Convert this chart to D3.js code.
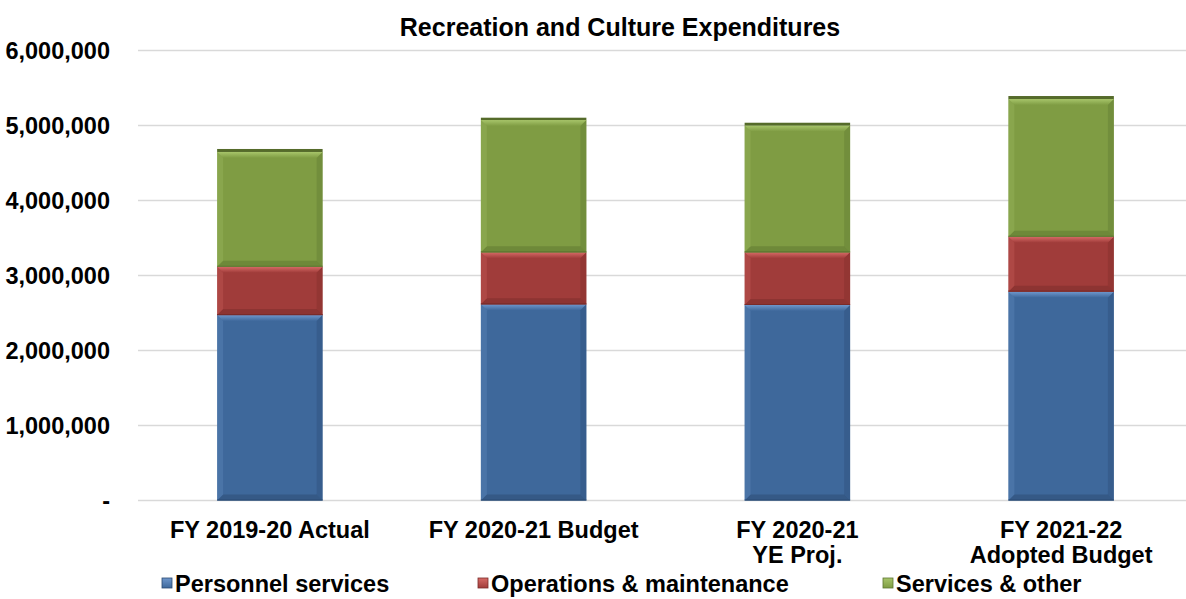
<!DOCTYPE html>
<html><head><meta charset="utf-8">
<script src="https://cdn.jsdelivr.net/npm/d3@7"></script>
<style>
body{margin:0;background:#fff;}
text{font-family:"Liberation Sans",Arial,sans-serif;font-weight:bold;fill:#000;}
</style></head>
<body>
<svg id="chart" width="1186" height="599"></svg>
<script>
const categories = ["FY 2019-20 Actual", "FY 2020-21 Budget", "FY 2020-21\nYE Proj.", "FY 2021-22\nAdopted Budget"];
const personnel = [2473000, 2616000, 2607000, 2784000];
const operations = [644000, 693000, 702000, 733000];
const services = [1530000, 1764000, 1691000, 1836000];
const capital = [40000, 31000, 37000, 40000];
const seriesNames = ["Personnel services", "Operations & maintenance", "Services & other", "Capital outlay"];
const yTicks = [0, 1000000, 2000000, 3000000, 4000000, 5000000, 6000000];

const colors = ["#3e689b", "#a03c3a", "#7f9c43", "#556b2a"];
const lights = ["#6f97cc", "#d66a66", "#a7c56a", "#7f9c43"];
const darks = ["#2b4a72", "#7a2b29", "#5d7630", "#3e4f1d"];

const svg = d3.select("#chart");
const W = 1186, H = 599;
const x = d3.scaleBand().domain(categories).range([138, 1193]).paddingInner(0.6).paddingOuter(0.3);
const y = d3.scaleLinear().domain([0, 6000000]).range([500.5, 50.5]);

// gridlines
svg.append("g").selectAll("line").data(yTicks).join("line")
  .attr("x1", 138).attr("x2", W).attr("y1", d => y(d)).attr("y2", d => y(d))
  .attr("stroke", "#d9d9d9").attr("stroke-width", 1.5);

// y labels
const fmt = d => d === 0 ? "-" : d3.format(",")(d);
svg.append("g").selectAll("text").data(yTicks).join("text")
  .attr("x", 110).attr("y", d => y(d) + 8.5).attr("text-anchor", "end")
  .style("font-size", "23.5px").text(fmt);

// gradients
const defs = svg.append("defs");
colors.forEach((c, i) => {
  const g = defs.append("linearGradient").attr("id", "g" + i).attr("x1", 0).attr("x2", 0).attr("y1", 0).attr("y2", 1);
  g.append("stop").attr("offset", "0").attr("stop-color", lights[i]);
  g.append("stop").attr("offset", "1").attr("stop-color", c);
});

const data = categories.map((c, i) => ({cat: c, v: [personnel[i], operations[i], services[i], capital[i]]}));
const stack = d3.stack().keys([0, 1, 2, 3]).value((d, k) => d.v[k]);
const stacked = stack(data);

const bw = x.bandwidth();
stacked.forEach((layer, si) => {
  const g = svg.append("g");
  layer.forEach(seg => {
    const x0 = x(seg.data.cat), yt = y(seg[1]), yb = y(seg[0]);
    const h = yb - yt;
    g.append("rect").attr("x", x0).attr("y", yt).attr("width", bw).attr("height", h).attr("fill", colors[si]);
    if (si < 3) {
      const b = Math.min(6, h / 4);
      g.append("path").attr("d", `M${x0},${yt}L${x0 + bw},${yt}L${x0 + bw - b},${yt + b}L${x0 + b},${yt + b}Z`).attr("fill", `url(#g${si})`);
      g.append("path").attr("d", `M${x0},${yb}L${x0 + bw},${yb}L${x0 + bw - b},${yb - b}L${x0 + b},${yb - b}Z`).attr("fill", darks[si]).attr("opacity", 0.5);
      g.append("path").attr("d", `M${x0},${yt}L${x0 + b},${yt + b}L${x0 + b},${yb - b}L${x0},${yb}Z`).attr("fill", lights[si]).attr("opacity", 0.25);
      g.append("path").attr("d", `M${x0 + bw},${yt}L${x0 + bw - b},${yt + b}L${x0 + bw - b},${yb - b}L${x0 + bw},${yb}Z`).attr("fill", darks[si]).attr("opacity", 0.35);
      g.append("line").attr("x1", x0).attr("x2", x0 + bw).attr("y1", yb - 0.5).attr("y2", yb - 0.5).attr("stroke", darks[si]).attr("stroke-width", 1.2);
    }
  });
});

// x labels
const xl = svg.append("g");
categories.forEach(c => {
  const lines = c.split("\n");
  const t = xl.append("text").attr("x", x(c) + bw / 2).attr("y", 538).attr("text-anchor", "middle").style("font-size", "23.5px");
  lines.forEach((l, i) => t.append("tspan").attr("x", x(c) + bw / 2).attr("dy", i === 0 ? 0 : 25).text(l));
});

// title
svg.append("text").attr("x", 620).attr("y", 36).attr("text-anchor", "middle").style("font-size", "25px")
  .text("Recreation and Culture Expenditures");

// legend
const legendX = [162, 478, 883];
const lg = svg.append("g");
[0, 1, 2].forEach(i => {
  lg.append("rect").attr("x", legendX[i]).attr("y", 578).attr("width", 10).attr("height", 10)
    .attr("fill", `url(#g${i})`).attr("stroke", darks[i]).attr("stroke-width", 0.8);
  lg.append("text").attr("x", legendX[i] + 13).attr("y", 592).style("font-size", "23.5px").text(seriesNames[i]);
});
</script>
</body></html>
